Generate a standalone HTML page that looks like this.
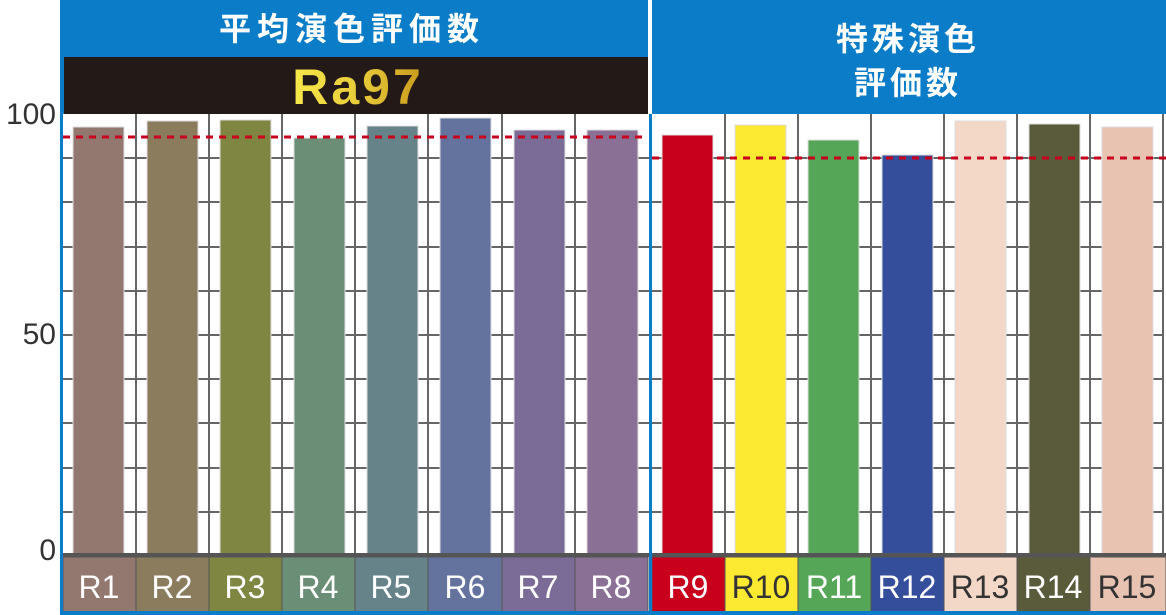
<!DOCTYPE html>
<html><head><meta charset="utf-8"><style>
html,body{margin:0;padding:0;background:#fff;width:1166px;height:615px;overflow:hidden}
svg{display:block}
</style></head><body>
<svg width="1166" height="615" viewBox="0 0 1166 615" xmlns="http://www.w3.org/2000/svg" font-family="Liberation Sans, Noto Sans CJK JP, sans-serif">
<defs>
<linearGradient id="gold" x1="0" y1="0" x2="1" y2="0">
<stop offset="0" stop-color="#f6e84a"/><stop offset="0.5" stop-color="#e8cc3a"/><stop offset="1" stop-color="#c99a1e"/>
</linearGradient>
</defs>
<rect x="60" y="0" width="1106" height="114" fill="#0a7cc8"/>
<rect x="64" y="57" width="584" height="57" fill="#231a18"/>
<rect x="648" y="0" width="4" height="114" fill="#fff"/>
<text x="352" y="40" fill="#fff" font-size="32" font-weight="bold" text-anchor="middle" letter-spacing="6">平均演色評価数</text>
<text x="358" y="104" fill="url(#gold)" font-size="50" font-weight="bold" text-anchor="middle" letter-spacing="3" font-family="Liberation Sans, sans-serif">Ra97</text>
<text x="908" y="50" fill="#fff" font-size="32" font-weight="bold" text-anchor="middle" letter-spacing="4">特殊演色</text>
<text x="908" y="94" fill="#fff" font-size="32" font-weight="bold" text-anchor="middle" letter-spacing="4">評価数</text>
<g fill="#333" font-size="30" text-anchor="end">
<text x="56" y="124">100</text><text x="56" y="344">50</text><text x="56" y="560">0</text>
</g>
<g stroke="#666" stroke-width="2">
<line x1="63" y1="158" x2="1163" y2="158"/><line x1="63" y1="202" x2="1163" y2="202"/>
<line x1="63" y1="247" x2="1163" y2="247"/><line x1="63" y1="291" x2="1163" y2="291"/>
<line x1="63" y1="335" x2="1163" y2="335"/><line x1="63" y1="379" x2="1163" y2="379"/>
<line x1="63" y1="423" x2="1163" y2="423"/><line x1="63" y1="468" x2="1163" y2="468"/>
<line x1="63" y1="512" x2="1163" y2="512"/>
</g>
<g stroke="#666" stroke-width="2">
<line x1="136" y1="114" x2="136" y2="555"/><line x1="209" y1="114" x2="209" y2="555"/>
<line x1="282" y1="114" x2="282" y2="555"/><line x1="355" y1="114" x2="355" y2="555"/>
<line x1="428" y1="114" x2="428" y2="555"/><line x1="502" y1="114" x2="502" y2="555"/>
<line x1="575" y1="114" x2="575" y2="555"/>
<line x1="725" y1="114" x2="725" y2="555"/><line x1="798" y1="114" x2="798" y2="555"/>
<line x1="871" y1="114" x2="871" y2="555"/><line x1="944" y1="114" x2="944" y2="555"/>
<line x1="1017" y1="114" x2="1017" y2="555"/><line x1="1090" y1="114" x2="1090" y2="555"/>
<line x1="1163" y1="114" x2="1163" y2="555"/>
</g>
<g stroke="#ddd" stroke-width="1">
<rect x="73" y="127" width="51" height="428" fill="#937870"/>
<rect x="147" y="121" width="51" height="434" fill="#8b7c5e"/>
<rect x="220" y="120" width="51" height="435" fill="#7e8642"/>
<rect x="294" y="138" width="51" height="417" fill="#6b8e76"/>
<rect x="367" y="126" width="51" height="429" fill="#66838a"/>
<rect x="440" y="118" width="51" height="437" fill="#64739e"/>
<rect x="514" y="130" width="51" height="425" fill="#7a6c96"/>
<rect x="587" y="130" width="51" height="425" fill="#8a7095"/>
<rect x="662" y="135" width="51" height="420" fill="#c8001c"/>
<rect x="735" y="125" width="51" height="430" fill="#fce932"/>
<rect x="808" y="140" width="51" height="415" fill="#55a656"/>
<rect x="882" y="155" width="51" height="400" fill="#354e9c"/>
<rect x="955" y="121" width="51" height="434" fill="#f3d8c7"/>
<rect x="1029" y="124" width="51" height="431" fill="#5a5b3b"/>
<rect x="1102" y="127" width="51" height="428" fill="#e8c3b1"/>
</g>
<line x1="63" y1="137" x2="648" y2="137" stroke="#c8001c" stroke-width="3" stroke-dasharray="7,6"/>
<line x1="652" y1="158" x2="1166" y2="158" stroke="#c8001c" stroke-width="3" stroke-dasharray="7,6"/>
<rect x="63" y="553" width="1103" height="4" fill="#555"/>
<g stroke="#555" stroke-width="1">
<rect x="63" y="557" width="73" height="55" fill="#937870"/>
<rect x="136" y="557" width="73" height="55" fill="#8b7c5e"/>
<rect x="209" y="557" width="73" height="55" fill="#7e8642"/>
<rect x="282" y="557" width="73" height="55" fill="#6b8e76"/>
<rect x="355" y="557" width="73" height="55" fill="#66838a"/>
<rect x="428" y="557" width="74" height="55" fill="#64739e"/>
<rect x="502" y="557" width="73" height="55" fill="#7a6c96"/>
<rect x="575" y="557" width="73" height="55" fill="#8a7095"/>
<rect x="652" y="557" width="73" height="55" fill="#c8001c"/>
<rect x="725" y="557" width="73" height="55" fill="#fce932"/>
<rect x="798" y="557" width="73" height="55" fill="#55a656"/>
<rect x="871" y="557" width="73" height="55" fill="#354e9c"/>
<rect x="944" y="557" width="73" height="55" fill="#f3d8c7"/>
<rect x="1017" y="557" width="73" height="55" fill="#5a5b3b"/>
<rect x="1090" y="557" width="76" height="55" fill="#e8c3b1"/>
</g>
<g font-size="32" text-anchor="middle" fill="#fff">
<text x="99" y="598">R1</text><text x="172" y="598">R2</text><text x="245" y="598">R3</text>
<text x="318" y="598">R4</text><text x="391" y="598">R5</text><text x="465" y="598">R6</text>
<text x="538" y="598">R7</text><text x="611" y="598">R8</text><text x="688" y="598">R9</text>
<text x="761" y="598" fill="#333">R10</text><text x="834" y="598">R11</text><text x="907" y="598">R12</text>
<text x="980" y="598" fill="#333">R13</text><text x="1053" y="598">R14</text><text x="1127" y="598" fill="#333">R15</text>
</g>
<rect x="60" y="0" width="3" height="615" fill="#0a7cc8"/>
<rect x="649" y="114" width="3" height="501" fill="#0a7cc8"/>
<rect x="60" y="611" width="1106" height="4" fill="#0a7cc8"/>
</svg>
</body></html>
